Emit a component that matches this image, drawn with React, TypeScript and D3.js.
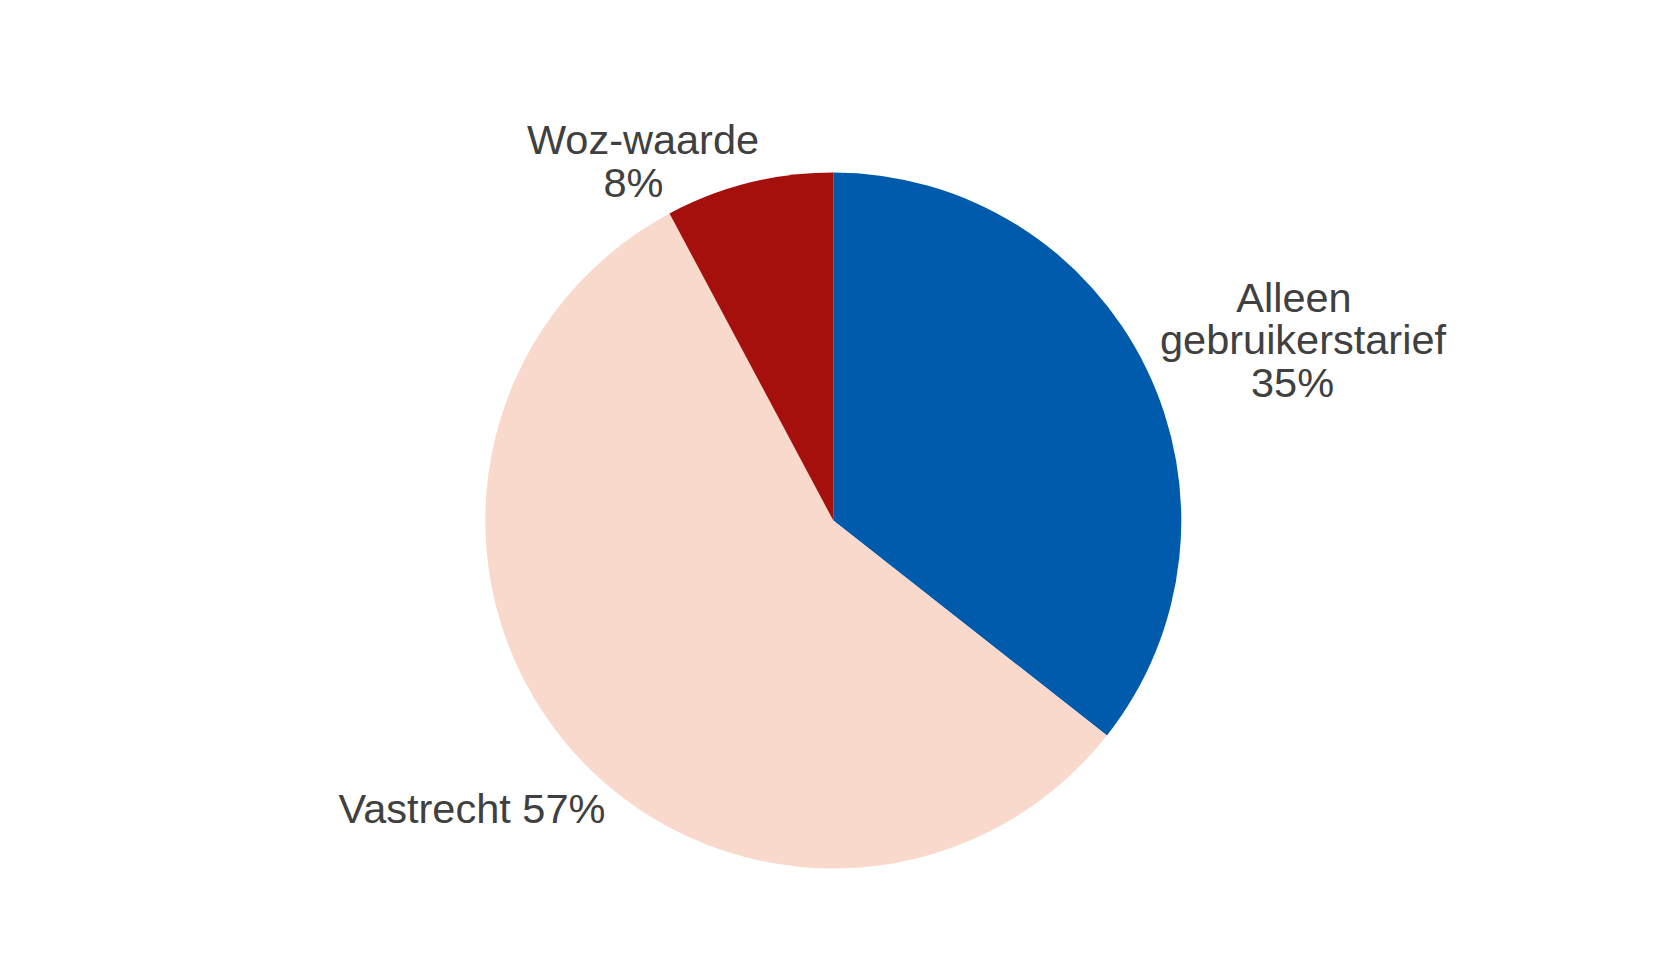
import React from "react";
import * as d3 from "d3";

const categories = ["Alleen gebruikerstarief", "Vastrecht", "Woz-waarde"];
const values = [35.6, 56.6, 7.8];
const pctLabels = ["35%", "57%", "8%"];
const colors = ["#005BAC", "#F9D9CC", "#A6100C"];
const labelLines = [
  ["Alleen", "gebruikerstarief", "35%"],
  ["Vastrecht 57%"],
  ["Woz-waarde", "8%"],
];

const W = 1663;
const H = 976;
const cx = 833.3;
const cy = 520.5;
const R = 348;

const labelPos = [
  { xs: [1294, 1303, 1292.5], y: 311.7 },
  { xs: [472], y: 823 },
  { xs: [643, 633.5], y: 154 },
];
const lineH = 42.5;

export default function App() {
  React.useEffect(() => {
    document.body.style.margin = "0";
  }, []);
  const data = categories.map((c, i) => ({ c, v: values[i], i }));
  const pie = d3.pie<any>().value((d: any) => d.v).sort(null);
  const arcs = pie(data);
  const arc = d3.arc<any>().innerRadius(0).outerRadius(R);
  return (
    <svg width={W} height={H} style={{ display: "block", background: "#fff" }}>
      <g transform={`translate(${cx},${cy})`}>
        {arcs.map((a, i) => (
          <path key={i} d={arc(a) as string} fill={colors[i]} />
        ))}
      </g>
      {labelLines.map((lines, i) => (
        <text
          key={i}
          fontFamily="'Liberation Sans', Arial, sans-serif"
          fontSize={41.5}
          fill="#404040"
          textAnchor="middle"
          data-pct={pctLabels[i]}
        >
          {lines.map((l, j) => (
            <tspan key={j} x={labelPos[i].xs[j]} y={labelPos[i].y + j * lineH}>
              {l}
            </tspan>
          ))}
        </text>
      ))}
    </svg>
  );
}
